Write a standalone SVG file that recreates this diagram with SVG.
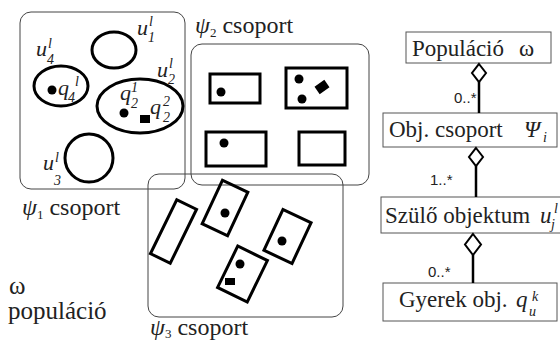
<svg xmlns="http://www.w3.org/2000/svg" width="560" height="340" viewBox="0 0 560 340">
  <style>
    text { font-family: "Liberation Serif", "DejaVu Serif", "Times New Roman", serif; fill: #222; }
    .grp { fill: none; stroke: #444; stroke-width: 1; }
    .obj { fill: none; stroke: #000; stroke-width: 3; }
    .dot { fill: #000; }
    .lbl { font-size: 24px; }
    .pop { font-size: 25px; }
    .cl { font-size: 23px; }
    .it { font-style: italic; }
    .big { font-size: 22px; }
    .sm { font-size: 14px; }
    .cls { fill: #fff; stroke: #555; stroke-width: 1; }
    .mult { font-family: "Liberation Sans", "DejaVu Sans", Arial, sans-serif; font-size: 15px; }
    .assoc { stroke: #000; stroke-width: 2.5; fill: none; }
    .dia { fill: #fff; stroke: #000; stroke-width: 2; }
  </style>

  <!-- group psi1: ellipse-shaped parent objects -->
  <g id="psi1">
    <rect class="grp" x="20" y="12" width="165" height="177" rx="11"/>
    <ellipse class="obj" cx="114" cy="50" rx="22" ry="18"/>
    <ellipse class="obj" cx="61" cy="86" rx="27" ry="20"/>
    <ellipse class="obj" cx="140" cy="106" rx="43" ry="27"/>
    <ellipse class="obj" cx="89" cy="158" rx="24" ry="24"/>
    <circle class="dot" cx="52" cy="90" r="4.5"/>
    <circle class="dot" cx="124" cy="113" r="4.5"/>
    <rect class="dot" x="140" y="115" width="10" height="8"/>
    <!-- u labels -->
    <text class="it big" x="137" y="35">u</text>
    <text class="it sm" x="149" y="26">l</text>
    <text class="it sm" x="148" y="42">1</text>
    <text class="it big" x="36" y="56">u</text>
    <text class="it sm" x="48" y="48">l</text>
    <text class="it sm" x="47" y="64">4</text>
    <text class="it big" x="157" y="77">u</text>
    <text class="it sm" x="169" y="68">l</text>
    <text class="it sm" x="168" y="84">2</text>
    <text class="it big" x="43" y="170">u</text>
    <text class="it sm" x="55" y="162">l</text>
    <text class="it sm" x="54" y="185">3</text>
    <!-- q labels -->
    <text class="it big" x="58" y="95">q</text>
    <text class="it sm" x="75" y="86">l</text>
    <text class="it sm" x="68" y="102">4</text>
    <text class="it big" x="120" y="100">q</text>
    <text class="it sm" x="131" y="92">1</text>
    <text class="it sm" x="131" y="108">2</text>
    <text class="it big" x="150" y="114">q</text>
    <text class="it sm" x="163" y="106">2</text>
    <text class="it sm" x="163" y="122">2</text>
    <text class="lbl" x="22" y="215"><tspan class="it">ψ</tspan><tspan font-size="13" dy="4">1</tspan><tspan dy="-4"> csoport</tspan></text>
  </g>

  <!-- group psi2: rectangle objects -->
  <g id="psi2">
    <rect class="grp" x="191" y="44" width="178" height="141" rx="11"/>
    <rect class="obj" x="210" y="74" width="50" height="29"/>
    <circle class="dot" cx="221" cy="92" r="4.5"/>
    <rect class="obj" x="286" y="68" width="61" height="40"/>
    <circle class="dot" cx="299" cy="79" r="4.5"/>
    <circle class="dot" cx="302" cy="99" r="4.5"/>
    <rect class="dot" x="-6" y="-4.5" width="12" height="9" transform="translate(322 87) rotate(-35)"/>
    <rect class="obj" x="206" y="132" width="60" height="34"/>
    <circle class="dot" cx="224" cy="143" r="4.5"/>
    <rect class="obj" x="299" y="132" width="46" height="33"/>
    <text class="lbl" x="195" y="33"><tspan class="it">ψ</tspan><tspan font-size="13" dy="4">2</tspan><tspan dy="-4"> csoport</tspan></text>
  </g>

  <!-- group psi3: tilted rectangle objects -->
  <g id="psi3">
    <rect class="grp" x="148" y="174" width="195" height="143" rx="11"/>
    <rect class="obj" x="-11" y="-30" width="22" height="60" transform="translate(173.5 231.5) rotate(26)"/>
    <rect class="obj" x="-14" y="-24" width="28" height="48" transform="translate(225 208) rotate(25)"/>
    <circle class="dot" cx="225" cy="213" r="4.5"/>
    <rect class="obj" x="-15.5" y="-22.5" width="31" height="45" transform="translate(287.5 236.5) rotate(25)"/>
    <circle class="dot" cx="282" cy="241" r="4.5"/>
    <rect class="obj" x="-16.5" y="-23" width="33" height="46" transform="translate(242.5 274) rotate(26)"/>
    <circle class="dot" cx="240" cy="264" r="4.5"/>
    <rect class="dot" x="225" y="278" width="10" height="7"/>
    <text class="lbl" x="150" y="335"><tspan class="it">ψ</tspan><tspan font-size="13" dy="3">3</tspan><tspan dy="-3"> csoport</tspan></text>
  </g>

  <!-- population label -->
  <g id="population">
    <text class="pop" x="9" y="294">ω</text>
    <text class="pop" x="8" y="319">populáció</text>
  </g>

  <!-- class diagram nodes -->
  <g id="cls-populacio">
    <rect class="cls" x="406" y="32" width="145" height="31"/>
    <text class="cl" x="412" y="56">Populáció</text>
    <text class="cl" x="519" y="56">ω</text>
  </g>
  <g id="cls-csoport">
    <rect class="cls" x="383" y="113" width="174" height="34"/>
    <text class="cl" x="389" y="137">Obj. csoport</text>
    <text class="cl it" x="524" y="137">Ψ</text>
    <text class="it sm" x="543" y="142">i</text>
  </g>
  <g id="cls-szulo">
    <rect class="cls" x="381" y="197" width="185" height="36"/>
    <text class="cl" x="385" y="223">Szülő objektum</text>
    <text class="cl it" x="540" y="223">u</text>
    <text class="it sm" x="551" y="229">j</text>
    <text class="it sm" x="554" y="213">l</text>
  </g>
  <g id="cls-gyerek">
    <rect class="cls" x="383" y="283" width="174" height="38"/>
    <text class="cl" x="399" y="307">Gyerek obj.</text>
    <text class="cl it" x="516" y="307">q</text>
    <text class="it sm" x="529" y="316">u</text>
    <text class="it sm" x="532" y="301">k</text>
  </g>

  <!-- aggregation connectors -->
  <g id="connectors">
    <line class="assoc" x1="479" y1="82" x2="479" y2="113"/>
    <polygon class="dia" points="479,64 486,73 479,82 472,73"/>
    <text class="mult" x="454" y="103">0..*</text>
    <line class="assoc" x1="476" y1="166" x2="476" y2="197"/>
    <polygon class="dia" points="476,148 483,157 476,166 469,157"/>
    <text class="mult" x="430" y="185">1..*</text>
    <line class="assoc" x1="473" y1="255" x2="473" y2="283"/>
    <polygon class="dia" points="473,234 481,244.5 473,255 465,244.5"/>
    <text class="mult" x="428" y="277">0..*</text>
  </g>
</svg>
